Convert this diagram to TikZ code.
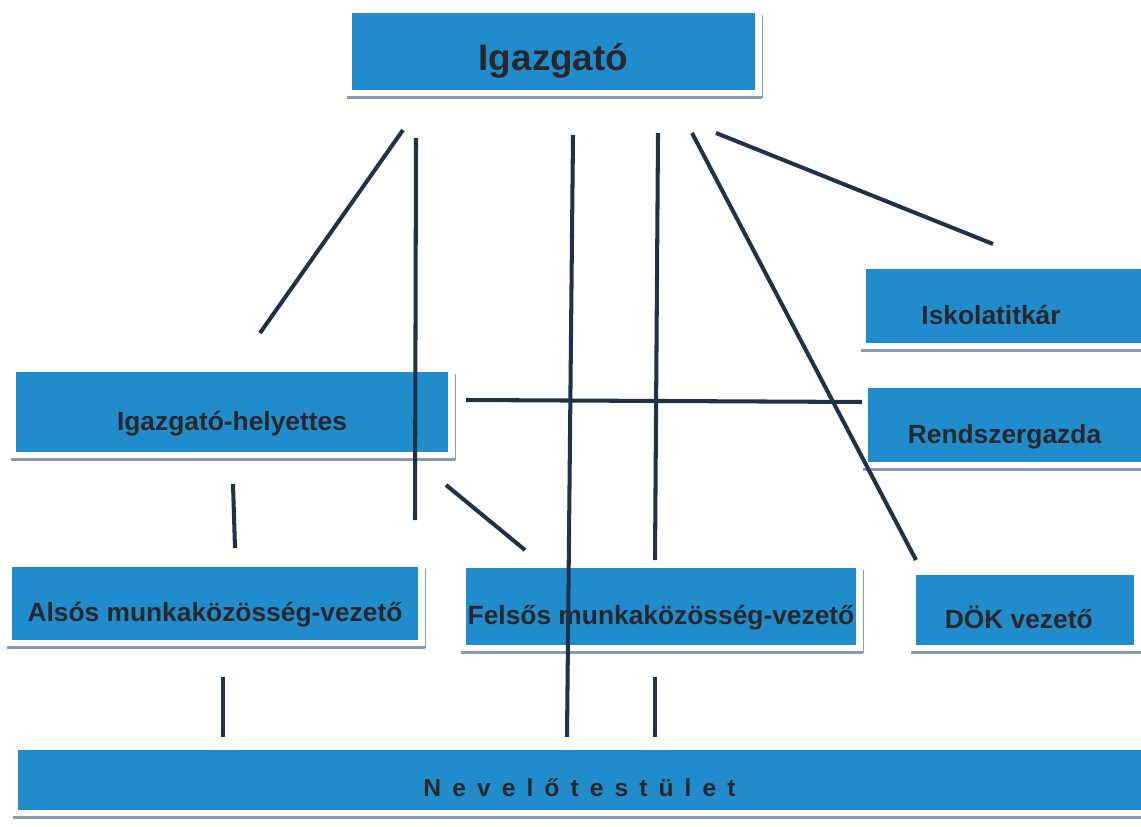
\documentclass[tikz,border=0pt]{standalone}
\usepackage{fontspec}
\setmainfont{Liberation Sans}
\definecolor{orgblue}{RGB}{33,140,204}
\definecolor{orgline}{RGB}{32,50,74}
\definecolor{orgshade}{RGB}{135,155,178}
\definecolor{orgtext}{RGB}{40,40,44}
\tikzset{
  orgbox/.style={fill=orgblue, text=orgtext, inner sep=0pt,
    font=\bfseries\fontsize{15}{18}\selectfont, text height=21pt, text depth=0pt},
  orgconn/.style={orgline, line width=2.3pt},
  orgshadow/.style={orgshade, line width=1.8pt},
}
% sombra cinza sob cada caixa
\newcommand{\boxshadow}[1]{%
  \draw[orgshadow] ([shift={(-5,7)}]#1.south west) -- ([shift={(7,7)}]#1.south east);
  \draw[orgshade, line width=0.6pt] ([shift={(7,8)}]#1.south east) -- ([shift={(7,2)}]#1.north east);
}
\begin{document}
\begin{tikzpicture}[x=0.02cm, y=-0.02cm]
    \useasboundingbox (0,0) rectangle (1141,827);
    \fill[white] (0,0) rectangle (1141,827);

    % Caixas
    \node[orgbox, font=\bfseries\fontsize{21}{25}\selectfont, text height=22pt, minimum width=8.06cm, minimum height=1.54cm] (I) at (553.5,51.5) {Igazgató};
    \node[orgbox, minimum width=5.5cm, minimum height=1.48cm] (T) at (1003.5,306) {Iskolatitkár\hspace*{0.5cm}};
    \node[orgbox, minimum width=5.46cm, minimum height=1.48cm] (R) at (1004.5,425) {Rendszergazda};
    \node[orgbox, minimum width=8.64cm, minimum height=1.6cm] (H) at (232,412) {Igazgató-helyettes};
    \node[orgbox, minimum width=8.12cm, minimum height=1.46cm] (A) at (215,603.5) {Alsós munkaközösség-vezető};
    \node[orgbox, minimum width=7.8cm, minimum height=1.54cm] (F) at (661,606.5) {Felsős munkaközösség-vezető};
    \node[orgbox, minimum width=4.36cm, minimum height=1.4cm] (D) at (1025,610) {DÖK vezető\hspace*{0.25cm}};
    \node[orgbox, font=\bfseries\fontsize{14}{17}\selectfont\addfontfeature{LetterSpace=45}, text height=19pt, minimum width=22.46cm, minimum height=1.2cm] (N) at (579.5,780) {Nevelőtestület};

    \boxshadow{I}
    \boxshadow{T}
    \boxshadow{R}
    \boxshadow{H}
    \boxshadow{A}
    \boxshadow{F}
    \boxshadow{D}
    \boxshadow{N}

    % Pontas soltas das linhas
    \coordinate (I1) at (403,130);  \coordinate (H1) at (260,333);
    \coordinate (I2) at (416,138);  \coordinate (F1) at (415,520);
    \coordinate (I3) at (573,135);  \coordinate (N1) at (567,737);
    \coordinate (I4) at (658,133);  \coordinate (F2) at (655,560);
    \coordinate (I5) at (692,133);  \coordinate (D1) at (916,560);
    \coordinate (I6) at (716,133);  \coordinate (T1) at (993,244);
    \coordinate (H2) at (466,400);  \coordinate (R1) at (862,402);
    \coordinate (H3) at (233,484);  \coordinate (A1) at (235,548);
    \coordinate (H4) at (446,485);  \coordinate (F3) at (525,550);
    \coordinate (A2) at (223,677);  \coordinate (N2) at (223,737);
    \coordinate (F4) at (655,677);  \coordinate (N3) at (655,737);

    % Linhas
    \draw[orgconn] (I1) -- (H1);
    \draw[orgconn] (I2) -- (F1);
    \draw[orgconn] (I3) -- (N1);
    \draw[orgconn] (I4) -- (F2);
    \draw[orgconn] (I5) -- (D1);
    \draw[orgconn] (I6) -- (T1);
    \draw[orgconn] (H2) -- (R1);
    \draw[orgconn] (H3) -- (A1);
    \draw[orgconn] (H4) -- (F3);
    \draw[orgconn] (A2) -- (N2);
    \draw[orgconn] (F4) -- (N3);
\end{tikzpicture}
\end{document}
